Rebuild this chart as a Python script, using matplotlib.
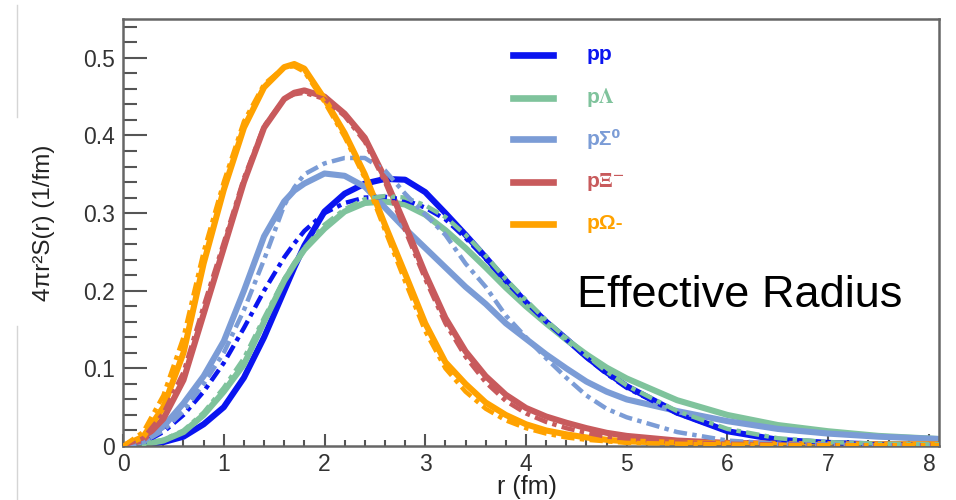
import matplotlib
matplotlib.use('Agg')
import matplotlib.pyplot as plt
from matplotlib.ticker import MultipleLocator, FuncFormatter
from matplotlib.lines import Line2D

plt.rcParams['font.family'] = ['Liberation Sans', 'DejaVu Sans']
plt.rcParams['mathtext.fontset'] = 'stix'

# source distributions 4 pi r^2 S(r): solid = model, dashed = second calculation
r = [0, .2, .4, .6, .8, 1.0, 1.2, 1.4, 1.6, 1.7, 1.8, 2.0, 2.2, 2.4, 2.6, 2.8, 3.0, 3.2, 3.4,
     3.6, 3.8, 4.0, 4.2, 4.4, 4.6, 4.8, 5.0, 5.5, 6.0, 6.5, 7.0, 7.5, 8.1]

pp_solid = [0, .001, .005, .012, .028, .05, .088, .14, .2, .23, .258, .302, .325, .338, .344, .343, .327,
            .3, .272, .243, .213, .185, .16, .138, .115, .095, .077, .043, .019, .008, .004, .002, .001]
pp_dash = [0, .004, .018, .04, .07, .107, .152, .2, .243, .261, .277, .3, .313, .32, .321, .317, .307,
           .292, .268, .241, .212, .185, .16, .137, .114, .093, .075, .042, .019, .008, .004, .002, .001]
pL_solid = [0, .002, .007, .018, .04, .07, .105, .16, .213, .234, .253, .28, .302, .313, .315, .311, .298,
            .278, .255, .23, .204, .18, .158, .137, .118, .101, .087, .059, .04, .027, .019, .013, .009]
pL_dash = [0, .002, .008, .02, .043, .075, .113, .165, .215, .236, .255, .285, .305, .318, .322, .32, .31,
           .295, .272, .245, .215, .188, .162, .139, .117, .096, .078, .045, .022, .01, .005, .003, .002]
pS_solid = [0, .006, .025, .055, .09, .135, .2, .27, .315, .329, .338, .351, .348, .334, .307, .28, .255,
            .23, .205, .183, .158, .138, .118, .1, .083, .07, .06, .045, .032, .022, .016, .012, .009]
pS_dash = [0, .005, .02, .045, .08, .12, .175, .24, .31, .333, .35, .364, .371, .371, .355, .325, .298,
           .272, .235, .205, .168, .14, .113, .088, .065, .048, .037, .018, .007, .003, .002, .001, .001]
pX_solid = [0, .008, .035, .085, .17, .255, .34, .41, .447, .455, .458, .45, .428, .397, .345, .285, .222,
            .165, .122, .09, .066, .049, .038, .03, .023, .017, .013, .007, .004, .003, .002, .002, .002]
pX_dash = [0, .01, .042, .095, .18, .262, .345, .412, .447, .453, .455, .447, .425, .392, .34, .278, .215,
           .158, .115, .082, .058, .042, .031, .023, .017, .012, .009, .005, .003, .002, .001, .001, .001]
pO_solid = [0, .012, .05, .12, .235, .33, .41, .462, .488, .492, .486, .447, .403, .35, .285, .222, .158,
            .108, .08, .056, .04, .028, .02, .015, .011, .008, .006, .004, .003, .002, .002, .002, .002]
pO_dash = [0, .018, .065, .14, .25, .34, .418, .466, .488, .489, .482, .443, .398, .345, .278, .212, .148,
           .1, .07, .048, .033, .023, .016, .011, .008, .006, .004, .003, .002, .001, .001, .001, .001]

labels = ['pp', r'p$\mathbf{\Lambda}$', 'pΣ⁰', r'p$\mathbf{\Xi}^{\mathbf{-}}$', 'pΩ-']
colors = ['#0a14f0', '#7fc39c', '#7b9cd6', '#c85a5c', '#ffa200']

fig = plt.figure(figsize=(9.56, 5.0), dpi=100)
ax = fig.add_axes([0.1287, 0.108, 0.8535, 0.854])

solids = [pp_solid, pL_solid, pS_solid, pX_solid, pO_solid]
dashes = [pp_dash, pL_dash, pS_dash, pX_dash, pO_dash]
for ys, c in zip(solids, colors):
    ax.plot(r, ys, color=c, lw=4.4, solid_capstyle='round', solid_joinstyle='round', zorder=2)
for yd, c in zip(dashes, colors):
    ax.plot(r, yd, color=c, lw=3.2, ls=(0, (3, 1.2, 1, 1.2)), zorder=3)

ax.set_xlim(0, 8.1)
ax.set_ylim(0, 0.55)
ax.xaxis.set_major_locator(MultipleLocator(1))
ax.xaxis.set_minor_locator(MultipleLocator(0.2))
ax.yaxis.set_major_locator(MultipleLocator(0.1))
ax.yaxis.set_minor_locator(MultipleLocator(0.02))
ax.yaxis.set_major_formatter(FuncFormatter(lambda v, p: '0' if abs(v) < 1e-9 else '%.1f' % v))
ax.xaxis.set_major_formatter(FuncFormatter(lambda v, p: '%d' % round(v)))

ax.tick_params(axis='y', which='major', direction='in', length=17, width=1.5, color='#555555',
               labelsize=16.5, labelcolor='#333333', pad=6)
ax.tick_params(axis='y', which='minor', direction='in', length=10, width=1.5, color='#555555')
ax.tick_params(axis='x', which='major', direction='in', length=8.5, width=1.5, color='#555555',
               labelsize=16.5, labelcolor='#333333', pad=5)
ax.tick_params(axis='x', which='minor', direction='in', length=4.5, width=1.5, color='#555555')
for s in ax.spines.values():
    s.set_color('#666666')
    s.set_linewidth(1.8)

# legend block
ys_leg = [0.916, 0.815, 0.719, 0.618, 0.52]
for lab, c, yl in zip(labels, colors, ys_leg):
    ax.add_line(Line2D([0.478, 0.527], [yl, yl], transform=ax.transAxes, color=c, lw=4.8))
    ax.text(0.568, yl, lab, transform=ax.transAxes, color=c, fontsize=15,
            fontweight='bold', va='center', ha='left')

ax.text(0.556, 0.326, 'Effective Radius', transform=ax.transAxes, fontsize=32.5,
        color='black', va='baseline', ha='left')

fig.text(0.046, 0.555, '4πr²S(r) (1/fm)', rotation=90, fontsize=17.5, color='#222222',
         ha='center', va='center')
fig.text(0.551, 0.026, 'r (fm)', fontsize=18, color='#222222', ha='center', va='center')

# faint slide rules on the left edge
fig.add_artist(Line2D([17 / 956, 17 / 956], [1 - 5 / 500, 1 - 117 / 500], color='#d5d5d5', lw=1))
fig.add_artist(Line2D([17 / 956, 17 / 956], [1 - 326 / 500, 0], color='#d5d5d5', lw=1))

fig.savefig('out.png', dpi=100)
